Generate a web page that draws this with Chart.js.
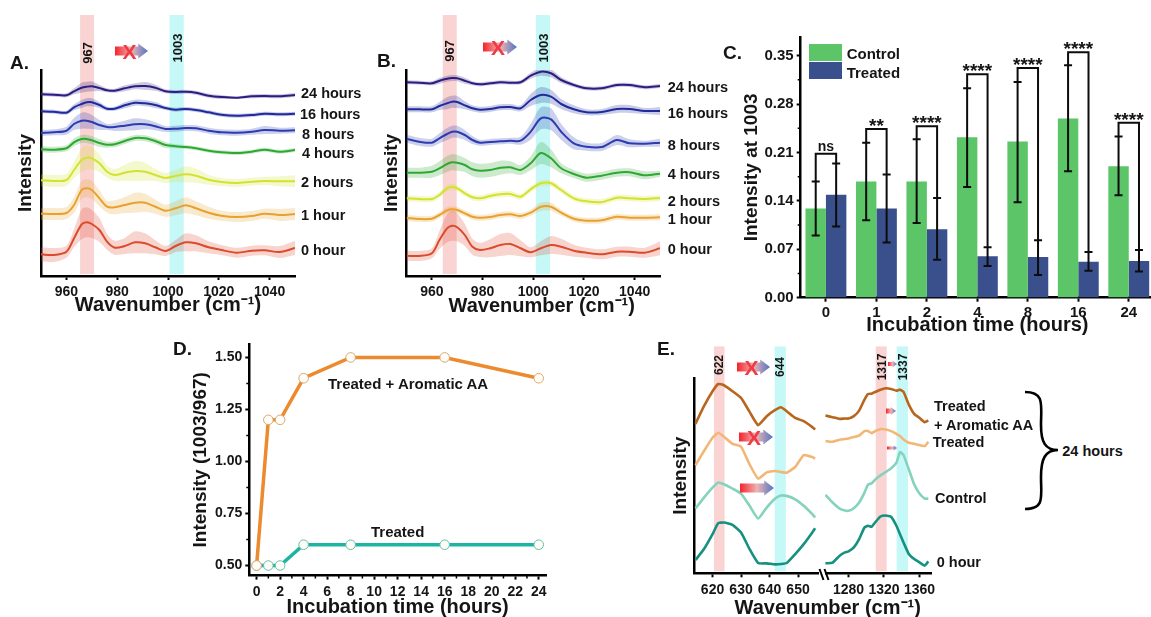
<!DOCTYPE html>
<html>
<head>
<meta charset="utf-8">
<title>Raman panels</title>
<script src="https://cdn.jsdelivr.net/npm/chart.js@4"></script>
<style>
  html, body { margin: 0; padding: 0; background: #fff; overflow: hidden; }
  #page { position: absolute; left: 0; top: 0; width: 1151px; height: 617px; overflow: hidden; background: #fff; filter: blur(0.4px); }
  canvas { position: absolute; }
  .t { position: absolute; font-family: "Liberation Sans", Arial, sans-serif; font-weight: bold; color: #151515; white-space: nowrap; line-height: 1; }
  svg { position: absolute; left: 0; top: 0; }
</style>
</head>
<body>
<div id="page"></div>
<script>
// x values of the spectra (cm-1)
var waveAB = [950,955,960,963,966,968,970,973,976,979,983,987,991,995,999,1003,1007,1011,1016,1021,1027,1033,1038,1044,1050];
var hourNames = ['0 hour','1 hour','2 hours','4 hours','8 hours','16 hours','24 hours'];
var spectraColors = ['#dc4a2c','#e8a12e','#d3e22f','#2fa832','#2a3cae','#1f2a9c','#2e1d80'];

// panel A, mean spectra (a.u.)
var a0 = [21.7,21,24.3,37.7,51.7,53.7,52,46,34.3,28.3,30,33.7,32.7,28.7,25,30,33.7,32.7,28.7,26,23.3,25.3,25.7,24,28];
var a1 = [62.3,62,63,71,86,87.7,86,77.7,69.3,68.7,71,73.3,73.3,69.3,65.3,67.7,70.7,67.7,63.3,60.3,59,60,62.3,61,62];
var a2 = [95.7,95,96,106,116,118.3,117.7,112.7,104.3,101,103.3,105,104.3,101,98,100,101.7,100.3,96.3,94,93,94.3,95,94.7,94.7];
var a4 = [126.7,126.3,127.7,133.7,137,137,135.7,133,131.3,131.7,135,138,137.7,135,131,129.7,129,127.7,125.3,123.7,123,124.3,126.3,124.3,126];
var a8 = [143,143.7,145.3,152,155.3,155.3,154,151,149,149,150.3,151.7,151.7,149.7,147,147.3,148,147.7,145.3,143.7,143.3,144.3,146,145.3,145.7];
var a16 = [164.7,164.3,163.3,168.7,172,173.7,173.7,171,167.3,167.3,170.7,173.3,172.7,171,168,166.3,167,166,163.7,161.3,160.3,161,162.3,161.7,162.3];
var a24 = [181.7,181.3,180.7,184.7,188.3,189.3,189.7,188,185.7,185.3,187.7,189.7,190,188.3,184.7,184,184.3,183.3,180.3,179,178.3,179.7,180,179.7,181];
// panel A, spread
var aErr0 = [7,7,6,9,15,15,14,12,8,7,8,11,10,7,5,6,9,8,6,5,5,5,5,6,7];
var aErr1 = [6,6,6,8,9,9,9,8,6,7,8,10,9,7,6,7,8,7,6,5,5,5,5,6,6];
var aErr2 = [6,6,6,8,12,12,11,9,6,6,8,10,9,6,5,6,8,7,5,4,4,4,4,5,6];
var aErr4 = [3,3,3,4,4,4,4,4,3,3,3,3,3,3,3,2,2,2,2,2,2,2,2,2,2];
var aErr8 = [3,3,4,6,8,8,7,5,3,4,5,6,5,4,3,3,3,3,3,3,3,3,4,3,3];
var aErr16 = [2,2,2,3,4,4,4,3,2,2,3,3,3,3,2,2,2,2,2,2,2,2,2,2,2];
var aErr24 = [2,2,2,3,5,5,5,3,2,2,3,3,4,3,2,2,2,2,2,2,1,2,2,2,2];

// panel B
var b0 = [20.3,20,22.7,36,47.7,50.3,48.7,41,29.3,26,27.7,31,32,27.7,23.7,27.7,31,29.3,25.3,23.3,21.7,24.3,24.3,23.3,27.7];
var b1 = [58,57,57.3,61,65.7,66.7,66,62.7,59.3,58.3,59,61,61.7,60,63.3,69.3,69.3,63.3,57.3,55.3,55.7,59.3,58.3,58.3,58.7];
var b2 = [77.7,77,77,81,87.7,89,87.7,82.7,78.7,77.7,80,81.7,82,79.3,86.7,92.7,92.7,86,77.7,74.7,74,78.3,77.7,77,78];
var b4 = [103.3,103.3,104.3,107.7,112,113.7,113.3,111,106.7,105.3,106,108.3,108.7,106,112.7,123,117.7,107.7,102,98.3,100.3,103.3,103.7,100.7,102.3];
var b8 = [137.3,134.3,133.3,137.7,142,144.3,144.3,141,136,133.3,134,134.7,135.3,135.3,144.3,157.7,156.7,144.3,132.7,129.3,129,136,132.7,132.3,133.3];
var b16 = [166.7,166.7,166.7,170,172.7,174.3,174,170.7,167.7,166.3,167,168.7,169,167.7,176,181,179.3,172,166.7,163.7,164,167,167,165,165];
var b24 = [193.7,193.3,192.7,195.3,197.3,198,197.7,195.3,192.7,191.7,192.7,193.7,193.3,193.7,200.3,204.3,202.7,196,191,187.7,187.7,191,191,188.7,190];
var bErr0 = [5,5,5,9,14,15,14,11,8,7,9,11,11,8,5,7,9,8,6,5,5,5,5,5,7];
var bErr1 = [3,3,3,3,3,3,3,3,3,3,3,3,3,3,3,4,4,3,3,3,3,3,3,3,3];
var bErr2 = [3,3,3,3,3,3,3,3,3,3,3,3,3,3,3,3,3,3,3,3,3,3,3,3,3];
var bErr4 = [5,5,6,7,8,8,8,7,7,7,7,7,6,5,7,11,9,5,4,4,4,4,4,4,3];
var bErr8 = [4,4,4,5,6,6,6,5,4,3,3,3,3,4,8,11,11,8,6,4,4,5,4,3,4];
var bErr16 = [3,3,3,4,6,6,6,4,3,3,3,3,3,3,6,8,7,5,4,3,3,4,4,3,4];
var bErr24 = [2,2,2,3,3,3,3,3,2,2,2,2,2,2,3,4,4,3,2,2,2,2,2,2,2];

// panel C
var cHours = ['0','1','2','4','8','16','24'];
var controlMean = [0.129,0.168,0.168,0.232,0.226,0.259,0.19];
var treatedMean = [0.149,0.129,0.099,0.06,0.059,0.052,0.053];
var controlHigh = [0.168,0.224,0.229,0.303,0.312,0.336,0.233];
var controlLow = [0.09,0.112,0.108,0.16,0.138,0.183,0.148];
var treatedHigh = [0.194,0.178,0.144,0.073,0.083,0.066,0.069];
var treatedLow = [0.103,0.08,0.055,0.046,0.033,0.039,0.038];
var bracketTop = [0.208,0.244,0.248,0.323,0.332,0.355,0.253];
var bracketText = ['ns','**','****','****','****','****','****'];
var cTicks = [0,0.07,0.14,0.21,0.28,0.35];
var cMinorY = [0.035,0.105,0.175,0.245,0.315];

// panel D
var dHours = [0,1,2,4,8,16,24];
var dAromatic = [0.5,1.2,1.2,1.4,1.5,1.5,1.4];
var dTreated = [0.5,0.5,0.5,0.6,0.6,0.6,0.6];
var dTicksX = [0,2,4,6,8,10,12,14,16,18,20,22,24];
var dTicksY = [0.5,0.75,1,1.25,1.5];
var dMinorX = [1,3,5,7,9,11,13,15,17,19,21,23];
var dMinorY = [0.625,0.875,1.125,1.375];

// panel E, low and high wavenumber parts
var waveEL = [614,617,620,622,624,627,630,633,636,639,642,644,646,649,652,655,656];
var eLAromatic = [150,167.7,182.7,190,188.7,182.7,176,162,148.7,157.7,164,166.7,162.7,156,152.7,146.7,144.3];
var eLTreated = [108.3,122.7,136,141,137,130,127,109.3,95,101.3,102.7,101.7,101,106.7,118.7,116.7,115];
var eLControl = [65,76,86,91,89.3,85,80,67.7,55,66,75,78,77.7,74.3,67.7,59.3,56];
var eLZero = [13.3,24.3,39.3,50.3,51,48.7,41,24.3,10.3,10,9,9.3,10.3,19.3,29.3,41,45.3];
var waveER = [1254,1262,1270,1276,1280,1286,1292,1298,1302,1306,1310,1316,1322,1328,1334,1338,1342,1348,1354,1360,1366,1370];
var eRAromatic = [158.3,156.7,155,155.3,155.3,157.7,163.3,174.3,180,180.3,182,184.3,185.7,185,183.3,184.3,182,169.3,160,156,151.7,153.3];
var eRTreated = [132.7,132,134,134.7,135.3,136.7,138.3,142.7,142.7,140.7,142.7,144.7,144.3,142.7,140,137.7,134.3,131,130,128.7,127.7,132];
var eRControl = [78.7,71,65,63,62.7,65.3,71,81,89,90.3,94,98.3,101.7,105.3,111,121.7,118.7,104.3,89.3,80,75,75];
var eRZero = [10,10.7,17.7,21,22,26,34.3,46,47.7,46.7,51,57,58,56.7,47.7,39.3,31,19.3,14.3,11,7.7,12];
var eColors = ['#b8661c','#f2b777','#84d3bd','#17917f'];

var PINK = '#fad3d3', CYAN = '#c6f8f8';
var FONT = '"Liberation Sans", Arial, sans-serif';
var INK = '#151515';
var page = document.getElementById('page');

// colored wavenumber strips, drawn behind the curves and up past the axis top
var stripsPlugin = {
    id: 'strips',
    beforeDatasetsDraw: function(chart, args, opts) {
        if (!opts.list) return;
        var c = chart.ctx, x = chart.scales.x, y = chart.scales.y;
        opts.list.forEach(function(s) {
            var x0 = x.getPixelForValue(s[0]), x1 = x.getPixelForValue(s[1]);
            var top = y.getPixelForValue(s[2]);
            c.fillStyle = s[3];
            c.fillRect(x0, top, x1 - x0, y.getPixelForValue(0) - top - 2);
        });
    }
};
// short unlabelled ticks
var minorPlugin = {
    id: 'minor',
    afterDraw: function(chart, args, opts) {
        var c = chart.ctx, a = chart.chartArea;
        c.strokeStyle = '#000'; c.lineWidth = 1.5;
        c.beginPath();
        (opts.x || []).forEach(function(v) {
            var px = chart.scales.x.getPixelForValue(v);
            c.moveTo(px, a.bottom); c.lineTo(px, a.bottom + 3);
        });
        (opts.y || []).forEach(function(v) {
            var py = chart.scales.y.getPixelForValue(v);
            c.moveTo(a.left, py); c.lineTo(a.left - 3, py);
        });
        c.stroke();
    }
};
Chart.register(stripsPlugin, minorPlugin);

function font(size) { return {family: FONT, size: size, weight: 'bold'}; }

// area = plot rectangle in page pixels. canvas grows left/down to hold axes.
function panel(o) {
    var cv = document.createElement('canvas');
    var L = o.left, T = o.area.t - o.topPad, W = o.area.r - L + 20, H = o.bottom - T;
    cv.width = W; cv.height = H;
    cv.style.left = L + 'px'; cv.style.top = T + 'px';
    page.appendChild(cv);

    var xScale = {
        type: o.xType || 'linear', min: o.xMin, max: o.xMax, offset: o.xType === 'category',
        border: {color: '#000', width: 2.5},
        grid: {display: true, drawOnChartArea: false, drawTicks: true, tickLength: 4, tickWidth: 2, tickColor: '#000', offset: false},
        ticks: {font: font(o.xTickSize || 14), color: INK, padding: o.xTickPad || 2, maxRotation: 0, autoSkip: false},
        afterFit: function(s) { s.height = T + H - o.area.b; }
    };
    if (o.xType !== 'category') xScale.ticks.callback = function(v) { return String(v); };
    if (o.xTicks) xScale.afterBuildTicks = function(s) { s.ticks = o.xTicks.map(function(v) { return {value: v}; }); };
    if (o.xTitle) xScale.title = {display: true, text: o.xTitle, font: font(o.xTitleSize || 20), color: INK, padding: 0};

    var yScale = {
        min: o.yMin, max: o.yMax,
        border: {color: '#000', width: 2.5},
        grid: {display: !!o.yTicks, drawOnChartArea: false, drawTicks: true, tickLength: 4, tickWidth: 2, tickColor: '#000'},
        ticks: {display: !!o.yTicks, font: font(o.yTickSize || 14), color: INK, padding: 3,
                callback: function(v) { return v.toFixed(2); }},
        afterFit: function(s) { s.width = o.area.l - L; }
    };
    if (o.yTicks) yScale.afterBuildTicks = function(s) { s.ticks = o.yTicks.map(function(v) { return {value: v}; }); };
    if (o.yTitle) yScale.title = {display: true, text: o.yTitle, font: font(o.yTitleSize || 19), color: INK, padding: 0};
    if (o.noY) yScale = {display: false, min: o.yMin, max: o.yMax};

    return new Chart(cv.getContext('2d'), {
        type: o.type || 'line',
        data: o.data,
        plugins: o.plugins || [],
        options: {
            responsive: false, animation: false, events: [],
            layout: {padding: {top: o.topPad, right: W - (o.area.r - L), left: o.noY ? o.area.l - L : 0, bottom: 0}},
            scales: {x: xScale, y: yScale},
            plugins: {legend: {display: false}, tooltip: {enabled: false}, strips: {list: o.strips}, minor: {x: o.minorX, y: o.minorY}}
        }
    });
}

function points(xs, ys) { return xs.map(function(x, i) { return {x: x, y: ys[i]}; }); }

// line with a shaded spread: upper edge fills down to lower edge
function spectrumSets(xs, means, errs) {
    var sets = [];
    means.forEach(function(m, s) {
        var col = spectraColors[s];
        var up = m.map(function(v, i) { return v + errs[s][i]; });
        var lo = m.map(function(v, i) { return v - errs[s][i]; });
        sets.push({data: points(xs, m), borderColor: col, borderWidth: 2, pointRadius: 0, tension: 0.3, fill: false});
        sets.push({data: points(xs, up), borderWidth: 0, pointRadius: 0, tension: 0.3, fill: '+1', backgroundColor: col + '3d'});
        sets.push({data: points(xs, lo), borderWidth: 0, pointRadius: 0, tension: 0.3, fill: false});
    });
    return sets;
}

function lineSets(xs, lists) {
    return lists.map(function(v, i) {
        return {data: points(xs, v), borderColor: eColors[i], borderWidth: 2.6, pointRadius: 0, tension: 0.15, fill: false};
    });
}

// A
panel({
    left: 14, area: {l: 41, r: 295, t: 70, b: 276}, topPad: 60, bottom: 317,
    xMin: 950, xMax: 1050, yMin: 0, yMax: 206,
    xTicks: [960,980,1000,1020,1040], xTickPad: 4, xTitle: 'Wavenumber (cm⁻¹)', yTitle: 'Intensity',
    strips: [[965.4,970.9,261,PINK],[1000.6,1006.2,261,CYAN]],
    data: {datasets: spectrumSets(waveAB, [a0,a1,a2,a4,a8,a16,a24], [aErr0,aErr1,aErr2,aErr4,aErr8,aErr16,aErr24])}
});
// B
panel({
    left: 380, area: {l: 406.5, r: 660.7, t: 70, b: 276}, topPad: 60, bottom: 317,
    xMin: 950, xMax: 1050, yMin: 0, yMax: 206,
    xTicks: [960,980,1000,1020,1040], xTickPad: 4, yTitle: 'Intensity',
    strips: [[964.3,969.8,261,PINK],[1001,1006.6,261,CYAN]],
    data: {datasets: spectrumSets(waveAB, [b0,b1,b2,b4,b8,b16,b24], [bErr0,bErr1,bErr2,bErr4,bErr8,bErr16,bErr24])}
});

// error bars and significance brackets for C
var cMarks = {
    id: 'cMarks',
    afterDatasetsDraw: function(chart) {
        var c = chart.ctx, y = chart.scales.y;
        var m0 = chart.getDatasetMeta(0).data, m1 = chart.getDatasetMeta(1).data;
        c.strokeStyle = '#0c0c0c'; c.lineWidth = 2; c.fillStyle = INK;
        function whisker(x, hi, lo) {
            c.beginPath();
            c.moveTo(x, y.getPixelForValue(hi)); c.lineTo(x, y.getPixelForValue(lo));
            [hi, lo].forEach(function(v) {
                c.moveTo(x - 4, y.getPixelForValue(v)); c.lineTo(x + 4, y.getPixelForValue(v));
            });
            c.stroke();
        }
        cHours.forEach(function(h, i) {
            whisker(m0[i].x, controlHigh[i], controlLow[i]);
            whisker(m1[i].x, treatedHigh[i], treatedLow[i]);
            var top = y.getPixelForValue(bracketTop[i]);
            c.beginPath();
            c.moveTo(m0[i].x, y.getPixelForValue(controlHigh[i]));
            c.lineTo(m0[i].x, top); c.lineTo(m1[i].x, top);
            c.lineTo(m1[i].x, y.getPixelForValue(treatedHigh[i]));
            c.stroke();
            var isNs = bracketText[i] === 'ns';
            c.font = 'bold ' + (isNs ? 14 : 19) + 'px ' + FONT;
            c.textAlign = 'center'; c.textBaseline = 'alphabetic';
            c.fillText(bracketText[i], (m0[i].x + m1[i].x) / 2, top + (isNs ? -3 : 3));
        });
    }
};
panel({
    type: 'bar', xType: 'category', left: 740, area: {l: 800.7, r: 1154.7, t: 37.3, b: 298.7}, topPad: 20, bottom: 338,
    yMin: 0, yMax: 0.377, yTicks: cTicks, yTickSize: 15, xTickSize: 15, xTickPad: 2, minorY: cMinorY,
    xTitle: 'Incubation time (hours)', xTitleSize: 20, yTitle: 'Intensity at 1003',
    plugins: [cMarks],
    data: {labels: cHours, datasets: [
        {data: controlMean, backgroundColor: '#5bc568', categoryPercentage: 0.81, barPercentage: 1},
        {data: treatedMean, backgroundColor: '#3a508c', categoryPercentage: 0.81, barPercentage: 1}
    ]}
});

// D
function ratioSet(v, line, edge) {
    return {data: points(dHours, v), borderColor: line, borderWidth: 3.5, tension: 0, fill: false,
            pointRadius: 4.8, pointBackgroundColor: '#fffdf6', pointBorderColor: edge, pointBorderWidth: 1};
}
panel({
    left: 189, area: {l: 249.3, r: 546.7, t: 344.3, b: 576.3}, topPad: 20, bottom: 619.7,
    xMin: -0.62, xMax: 24.62, yMin: 0.4516, yMax: 1.5645, xTicks: dTicksX, yTicks: dTicksY, xTickPad: 4,
    minorX: dMinorX, minorY: dMinorY,
    xTitle: 'Incubation time (hours)', xTitleSize: 20, yTitle: 'Intensity (1003/967)',
    data: {datasets: [ratioSet(dAromatic, '#ec8a2d', '#d9a774'), ratioSet(dTreated, '#1db5a2', '#63bfae')]}
});

// E, two x ranges side by side
panel({
    left: 669, area: {l: 694.3, r: 818, t: 378.3, b: 574.3}, topPad: 35, bottom: 615,
    xMin: 613.6, xMax: 657, yMin: 0, yMax: 196, xTicks: [620,630,640,650], xTickPad: 4, yTitle: 'Intensity',
    strips: [[620.5,624.2,227.7,PINK],[641.8,645.7,227.7,CYAN]],
    data: {datasets: lineSets(waveEL, [eLAromatic,eLTreated,eLControl,eLZero])}
});
panel({
    left: 825, noY: true, area: {l: 825, r: 931.7, t: 378.3, b: 574.3}, topPad: 35, bottom: 615,
    xMin: 1253.5, xMax: 1373, yMin: 0, yMax: 196, xTicks: [1280,1320,1360], xTickPad: 4,
    strips: [[1310.7,1323,227.7,PINK],[1334.2,1347,227.7,CYAN]],
    data: {datasets: lineSets(waveER, [eRAromatic,eRTreated,eRControl,eRZero])}
});

// free text
function label(str, x, cy, size, rot, center) {
    var d = document.createElement('div');
    d.className = 't';
    d.textContent = str;
    d.style.fontSize = size + 'px';
    d.style.left = x + 'px';
    d.style.top = cy + 'px';
    d.style.transform = (center ? 'translate(-50%,-50%)' : 'translateY(-50%)') + (rot ? ' rotate(' + rot + 'deg)' : '');
    page.appendChild(d);
}
label('A.', 10, 62, 19); label('B.', 377, 60, 19); label('C.', 723, 52, 19); label('D.', 173, 348, 19); label('E.', 657, 348, 19);

var aY = [250.3,215,182,152.7,134.3,114.3,93.3];
var aX = [301,301,301,302,302,300,301];
var bY = [249.3,218.7,200.7,174,145,113.3,86.7];
hourNames.forEach(function(n, i) {
    label(n, aX[i], aY[i], 14.5);
    label(n, 667.7, bY[i], 14.5);
});
label('967', 87, 53, 13, -90, true); label('1003', 177, 48, 13, -90, true);
label('967', 449, 51, 13, -90, true); label('1003', 543, 48, 13, -90, true);
label('Wavenumber (cm⁻¹)', 541.7, 305, 20, 0, true);
label('Control', 846.7, 52.7, 15); label('Treated', 846.7, 71.5, 15);
label('Treated + Aromatic AA', 328, 382.7, 15); label('Treated', 371, 530.5, 15);
label('622', 719, 365, 12, -90, true); label('644', 780.3, 366.7, 12, -90, true);
label('1317', 881.7, 366.7, 12, -90, true); label('1337', 903.3, 366.7, 12, -90, true);
label('Treated', 934, 406.3, 14.5); label('+ Aromatic AA', 934, 425, 14.5); label('Treated', 932.7, 441.7, 14.5);
label('Control', 935, 497.7, 14.5); label('0 hour', 936.7, 561.7, 14.5); label('24 hours', 1062.3, 450.7, 14.5);
label('Wavenumber (cm⁻¹)', 827.7, 606.5, 20, 0, true);

// legend swatches for C
[['#5bc568',44.3],['#3a508c',62.3]].forEach(function(s) {
    var d = document.createElement('div');
    d.style.cssText = 'position:absolute;left:809px;width:33px;height:17px;top:' + s[1] + 'px;background:' + s[0];
    page.appendChild(d);
});

// arrows, axis break and brace
function arrow(x0, x1, cy, h, crossed, id) {
    var head = x1 - h * 0.65, s = '';
    s += '<linearGradient id="g' + id + '"><stop offset="0" stop-color="#f5222a"/><stop offset="0.5" stop-color="#eeb4b4"/><stop offset="1" stop-color="#4f75c4"/></linearGradient>';
    s += '<polygon fill="url(#g' + id + ')" points="' + [x0, cy - h * 0.3, head, cy - h * 0.3, head, cy - h / 2, x1, cy, head, cy + h / 2, head, cy + h * 0.3, x0, cy + h * 0.3].join(' ') + '"/>';
    if (crossed) s += '<text x="' + ((x0 + x1) / 2 - 2) + '" y="' + (cy + h * 0.52) + '" text-anchor="middle" fill="#ee3b45" font-family="Liberation Sans" font-weight="bold" font-size="' + (h * 1.4) + '">X</text>';
    return s;
}
var svg = '<svg width="1151" height="617" xmlns="http://www.w3.org/2000/svg">';
svg += arrow(115, 148, 51, 15, true, 'a');
svg += arrow(483, 517, 47, 15, true, 'b');
svg += arrow(737, 770, 367, 15, true, 'c');
svg += arrow(739, 773, 437, 15, true, 'd');
svg += arrow(740, 774, 488, 15, false, 'e');
svg += arrow(888, 897, 364, 7, false, 'f');
svg += arrow(886, 896, 411, 8, false, 'g');
svg += arrow(887, 897, 448, 5, false, 'h');
svg += '<path d="M818 570 L822 581 M823 570 L827 581" stroke="#000" stroke-width="2" fill="none" transform="translate(1.5,-1) scale(1)"/>';
svg += '<path d="M1025 392 C1045 392,1041 405,1041 425 C1041 442,1045 450,1058 450 C1045 450,1041 459,1041 477 C1041 497,1045 509,1025 509" stroke="#000" stroke-width="2.6" fill="none"/>';
svg += '</svg>';
page.insertAdjacentHTML('beforeend', svg);
</script>
</body>
</html>
